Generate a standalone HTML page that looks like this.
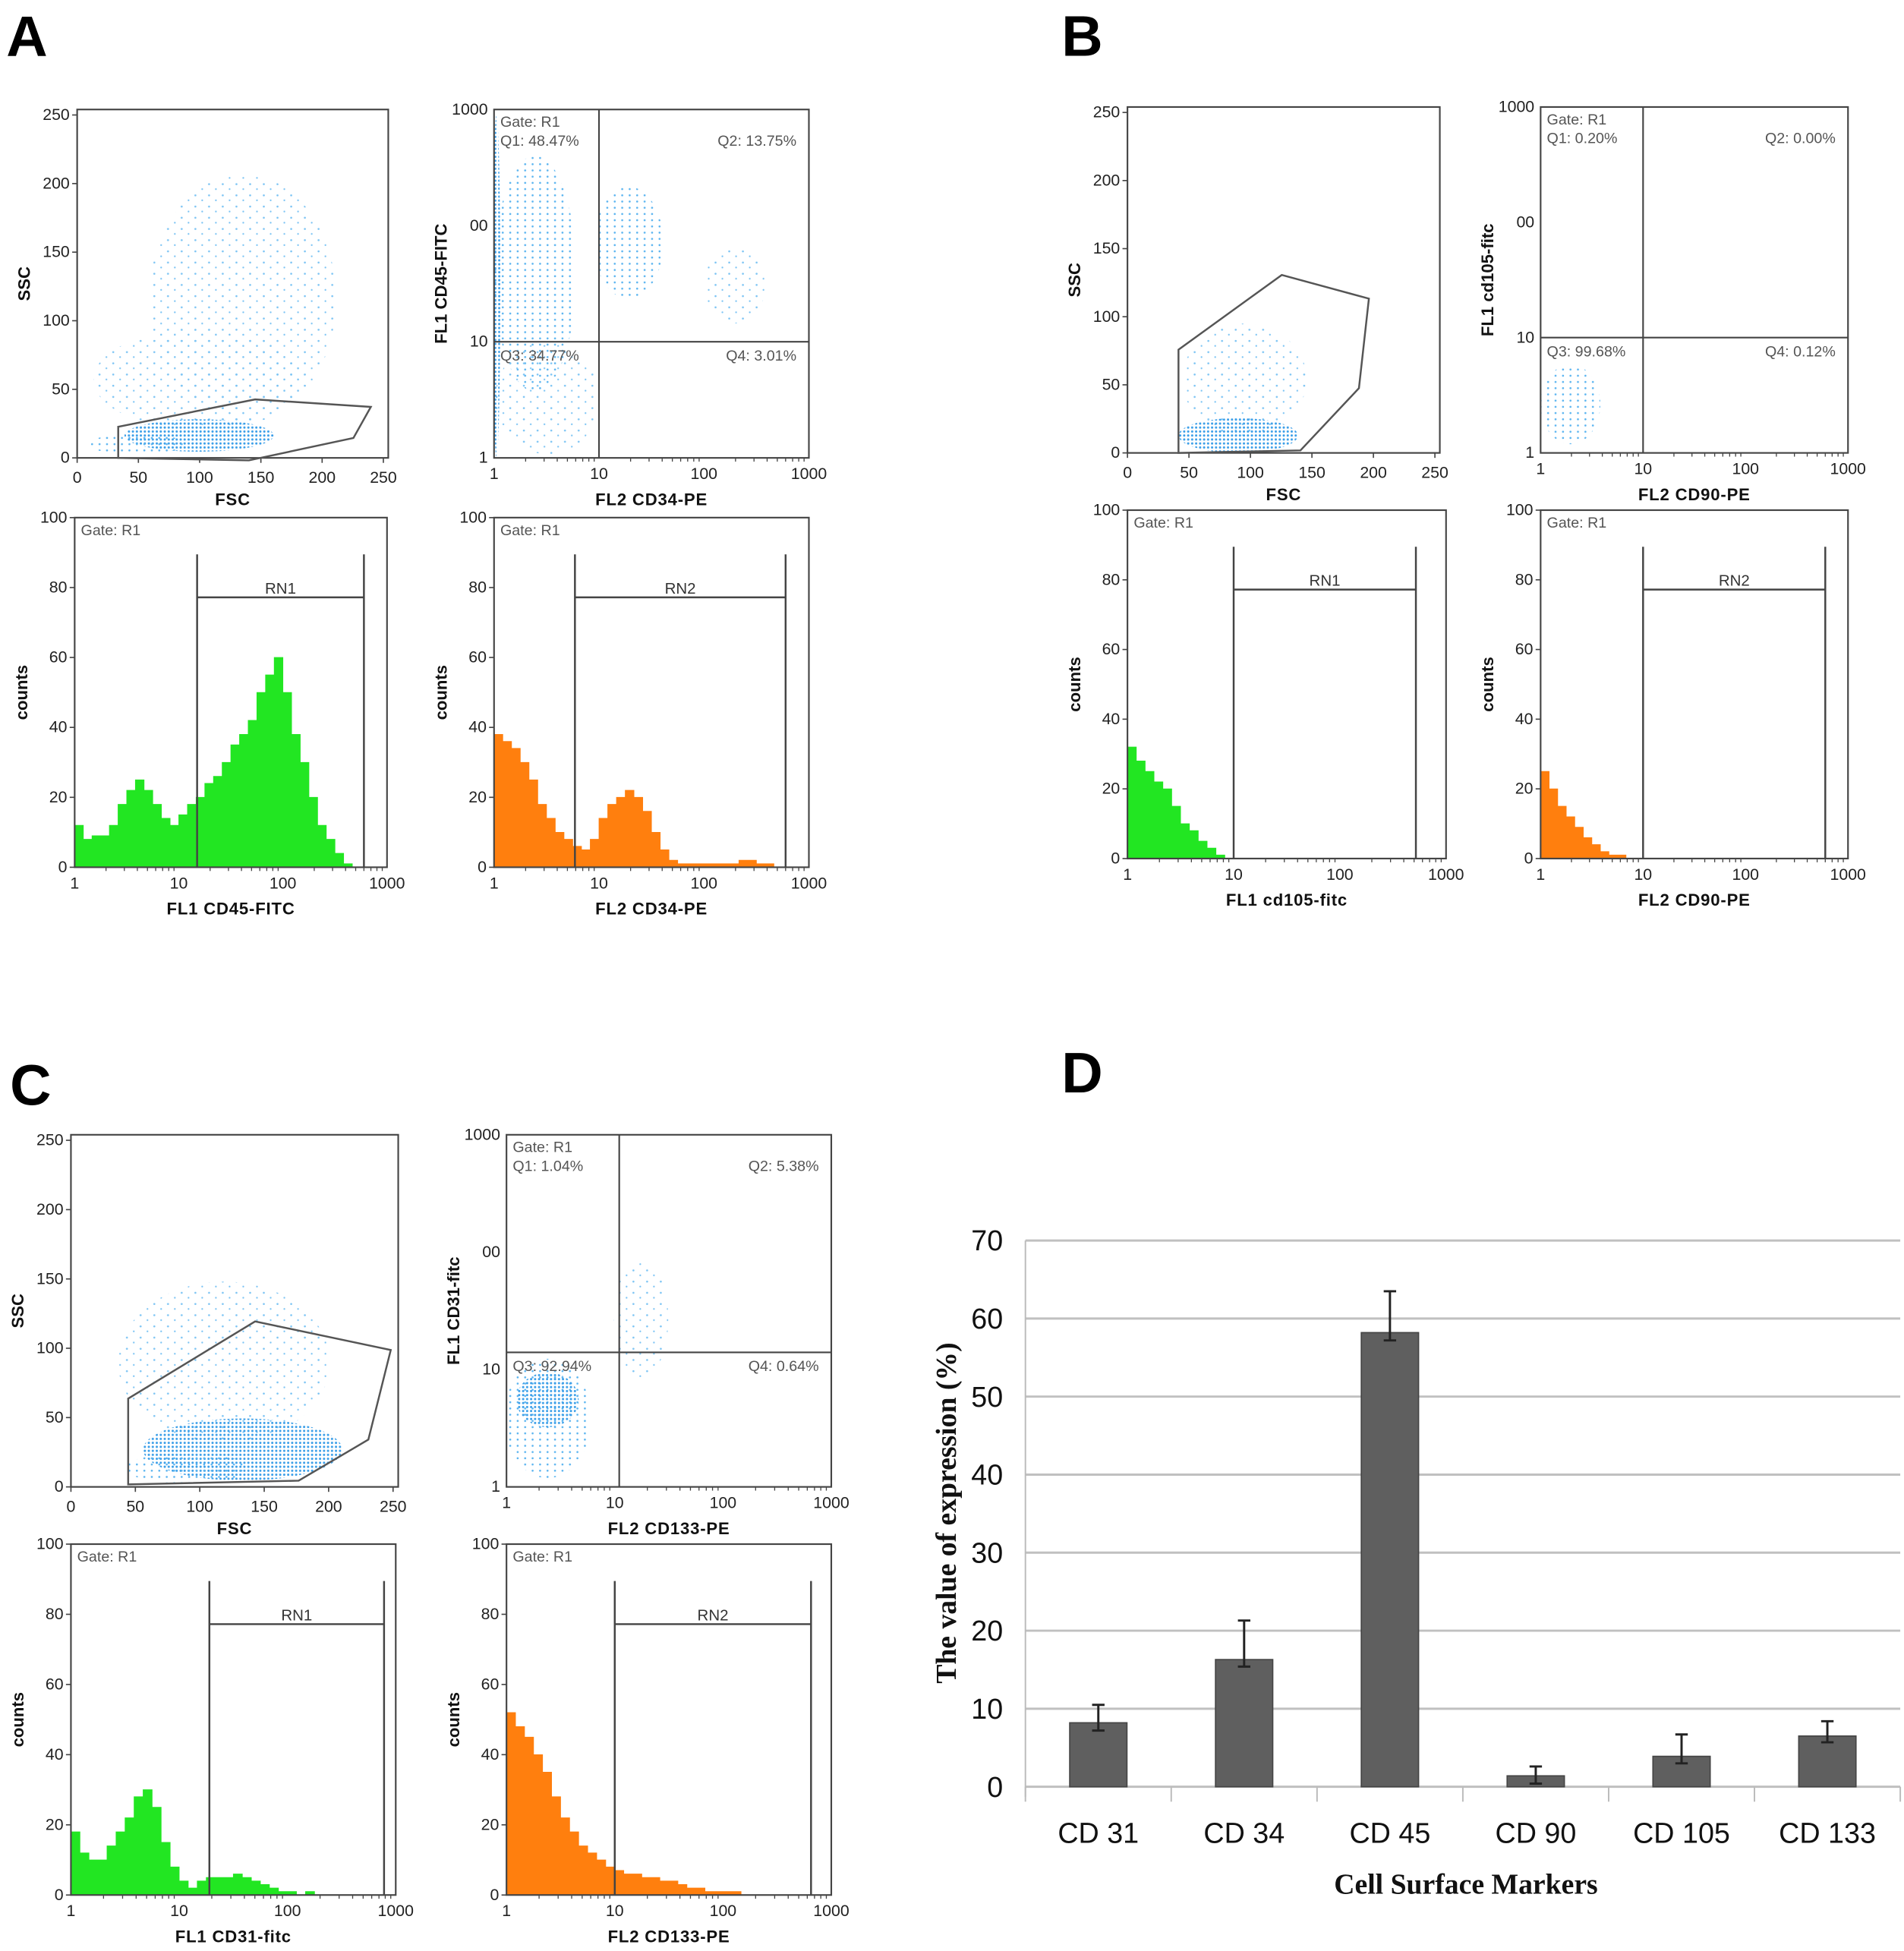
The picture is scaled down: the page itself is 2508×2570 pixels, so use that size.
<!DOCTYPE html>
<html><head><meta charset="utf-8"><style>
html,body{margin:0;padding:0;background:#fff;}
svg{display:block;}
.lab{font-family:"Liberation Sans",sans-serif;}
</style></head>
<body>
<svg id="fig" width="2508" height="2570" viewBox="0 0 1530 1568" preserveAspectRatio="none" xmlns="http://www.w3.org/2000/svg">
<defs>
<pattern id="dense" width="3.2" height="3.2" patternUnits="userSpaceOnUse"><circle cx="1.2" cy="1.2" r="0.9" fill="#3a9ee8"/></pattern>
<pattern id="mid" width="6" height="5" patternUnits="userSpaceOnUse"><circle cx="2" cy="2" r="0.8" fill="#5ab4f0"/></pattern>
<pattern id="sparse" width="11" height="9" patternUnits="userSpaceOnUse"><circle cx="3" cy="4" r="0.8" fill="#7cc4f4"/><circle cx="8.5" cy="8" r="0.7" fill="#7cc4f4"/></pattern>
</defs>
<g id="root"></g>
</svg>
<script>
// ---- Histogram data (counts per log bin, 12 bins per decade starting at 1) ----
const histA1 = [12,8,9,9,12,18,22,25,22,18,14,12,15,18,20,24,26,30,35,38,42,50,55,60,50,38,30,20,12,8,4,1,0,0,0,0];
const histA2 = [38,36,34,30,25,18,14,10,8,6,5,8,14,18,20,22,20,16,10,5,2,1,1,1,1,1,1,1,2,2,1,1,0,0,0,0];
const histB1 = [32,28,25,22,20,15,10,8,5,3,1,0,0,0,0,0,0,0,0,0,0,0,0,0,0,0,0,0,0,0,0,0,0,0,0,0];
const histB2 = [25,20,15,12,9,6,4,2,1,1,0,0,0,0,0,0,0,0,0,0,0,0,0,0,0,0,0,0,0,0,0,0,0,0,0,0];
const histC1 = [18,12,10,10,14,18,22,28,30,25,15,8,4,2,4,5,5,5,6,5,4,3,2,1,1,0,1,0,0,0,0,0,0,0,0,0];
const histC2 = [52,48,45,40,35,28,22,18,14,12,10,8,7,6,6,5,5,4,4,3,2,2,1,1,1,1,0,0,0,0,0,0,0,0,0,0];
// ---- Bar chart data ----
const markers = ["CD 31","CD 34","CD 45","CD 90","CD 105","CD 133"];
const expression = [8.2,16.3,58.2,1.4,3.9,6.5];
const errUpper = [10.5,21.3,63.5,2.6,6.7,8.4];
const errLower = [7.2,15.4,57.2,0.4,3.0,5.7];
const barTicks = [0,10,20,30,40,50,60,70];

const NS="http://www.w3.org/2000/svg";
const root=document.getElementById('root');
const SANS='font-family:"Liberation Sans",sans-serif';
const NARROW='font-family:"Liberation Sans Narrow","Liberation Sans",sans-serif';
const SERIF='font-family:"Liberation Serif",serif';
function el(tag,attrs,parent,txt){const e=document.createElementNS(NS,tag);for(const k in attrs)e.setAttribute(k,attrs[k]);if(tag==='text'&&!attrs.style)e.setAttribute('style',SANS);if(txt!==undefined)e.textContent=txt;(parent||root).appendChild(e);return e;}

function frame(g,b,name){
  const r=el('rect',{x:b.x0,y:b.y0,width:b.x1-b.x0,height:b.y1-b.y0,fill:'none',stroke:'#444','stroke-width':1.3},g);
  
  
}
function tickLabel(g,x,y,t,anchor){
  const e=el('text',{x:x,y:y,'font-size':13,fill:'#222','text-anchor':anchor},g,t);
  
  
}
function axisTitles(g,b,xl,yl){
  const t=el('text',{x:(b.x0+b.x1)/2,y:b.y1+38,'font-size':13.5,'font-weight':'bold',fill:'#111','text-anchor':'middle','letter-spacing':'0.5'},g,xl);
  
  
  const cx=b.x0-38, cy=(b.y0+b.y1)/2;
  const u=el('text',{x:cx,y:cy,'font-size':13.5,'font-weight':'bold',fill:'#111','text-anchor':'middle',transform:`rotate(-90 ${cx} ${cy})`},g,yl);
  
  
}
function logX(b,v){return b.x0+(b.x1-b.x0)*Math.log10(v)/3;}
function logY(b,v){return b.y1-(b.y1-b.y0)*Math.log10(v)/3;}
function logXTicks(g,b){
  [1,10,100,1000].forEach(v=>tickLabel(g,logX(b,v),b.y1+17,String(v),'middle'));
  for(let d=0;d<3;d++)for(let m=2;m<10;m++){const x=logX(b,Math.pow(10,d)*m);el('line',{x1:x,x2:x,y1:b.y1,y2:b.y1+3,stroke:'#444','stroke-width':0.8},g);}
}
function gateText(g,b){
  const t=el('text',{x:b.x0+5,y:b.y0+14,'font-size':12,fill:'#555'},g,'Gate: R1');
  
  
}

function scatterPanel(b,poly,clouds,name){
  const g=el('g',{});  
  clouds.forEach(c=>{const e=el('ellipse',{cx:c[0],cy:c[1],rx:c[2],ry:c[3],fill:'url(#'+c[4]+')'},g);});
  frame(g,b,name);
  const sx=v=>b.x0+(b.x1-b.x0)*v/254, sy=v=>b.y1-(b.y1-b.y0)*v/254;
  [0,50,100,150,200,250].forEach(v=>{tickLabel(g,sx(v),b.y1+20,String(v),'middle');tickLabel(g,b.x0-6,sy(v)+4,String(v),'end');
    el('line',{x1:sx(v),x2:sx(v),y1:b.y1,y2:b.y1+4,stroke:'#444'},g);el('line',{x1:b.x0-4,x2:b.x0,y1:sy(v),y2:sy(v),stroke:'#444'},g);});
  const p=el('polygon',{points:poly,fill:'none',stroke:'#555','stroke-width':1.5},g);
  
  
  axisTitles(g,b,'FSC','SSC');
  return g;
}
function quadPanel(b,qx,qy,q,clouds,xl,yl,name){
  const g=el('g',{});  
  clouds.forEach(c=>{const e=el('ellipse',{cx:c[0],cy:c[1],rx:c[2],ry:c[3],fill:'url(#'+c[4]+')'},g);});
  frame(g,b,name);
  const vx=logX(b,qx), vy=logY(b,qy);
  const l1=el('line',{x1:vx,x2:vx,y1:b.y0,y2:b.y1,stroke:'#444','stroke-width':1.3},g);
  
  
  const l2=el('line',{x1:b.x0,x2:b.x1,y1:vy,y2:vy,stroke:'#444','stroke-width':1.3},g);
  
  
  logXTicks(g,b);
  [['1',1],['10',10],['00',100],['1000',1000]].forEach(t=>tickLabel(g,b.x0-5,logY(b,t[1])+4,t[0],'end'));
  gateText(g,b);
  const labs=[[b.x0+5,b.y0+29,'Q1: '+q[0],'start'],[b.x1-10,b.y0+29,'Q2: '+q[1],'end'],[b.x0+5,vy+15,'Q3: '+q[2],'start'],[b.x1-10,vy+15,'Q4: '+q[3],'end']];
  labs.forEach((L,i)=>{const t=el('text',{x:L[0],y:L[1],'font-size':12,fill:'#555','text-anchor':L[3]},g,L[2]);});
  axisTitles(g,b,xl,yl);
  return g;
}
function histPanel(b,data,color,g1,g2,rn,xl,name){
  const g=el('g',{});  
  const yv=v=>b.y1-(b.y1-b.y0)*v/100;
  let d='M'+b.x0+','+b.y1;
  data.forEach((v,i)=>{const xa=logX(b,Math.pow(10,i/12)),xb=logX(b,Math.pow(10,(i+1)/12));d+=' L'+xa+','+yv(v)+' L'+xb+','+yv(v);});
  d+=' L'+logX(b,Math.pow(10,data.length/12))+','+b.y1+' Z';
  const p=el('path',{d:d,fill:color,stroke:color,'stroke-width':0.5},g);
  
  
  frame(g,b,name);
  logXTicks(g,b);
  [0,20,40,60,80,100].forEach(v=>{tickLabel(g,b.x0-6,yv(v)+4,String(v),'end');el('line',{x1:b.x0-4,x2:b.x0,y1:yv(v),y2:yv(v),stroke:'#444'},g);});
  const xa=logX(b,g1),xb=logX(b,g2),top=b.y0+(b.y1-b.y0)*0.105,bar=b.y0+(b.y1-b.y0)*0.228;
  const gp=el('path',{d:`M${xa},${b.y1} L${xa},${top} M${xa},${bar} L${xb},${bar} M${xb},${top} L${xb},${b.y1}`,fill:'none',stroke:'#444','stroke-width':1.5},g);
  
  
  const rt=el('text',{x:(xa+xb)/2,y:bar-3,'font-size':12.5,fill:'#333','text-anchor':'middle'},g,rn);
  
  
  gateText(g,b);
  axisTitles(g,b,xl,'counts');
  return g;
}
function letter(x,y,t){const e=el('text',{x:x,y:y,'font-size':46,'font-weight':'bold',fill:'#000'},root,t);}

// Panel A
letter(5,45,'A');
scatterPanel({x0:62,x1:312,y0:88,y1:368},'95,343 205,321 298,327 284,352 200,370 95,368',
  [[195,240,75,100,'sparse'],[160,305,85,40,'sparse'],[160,350,60,13,'dense'],[110,357,40,8,'mid']],'panel-a-scatter');
quadPanel({x0:397,x1:650,y0:88,y1:368},10,10,['48.47%','13.75%','34.77%','3.01%'],
  [[430,220,33,95,'mid'],[505,195,28,45,'mid'],[440,320,42,45,'sparse'],[590,230,25,30,'sparse'],[399,230,3,138,'dense']],'FL2  CD34-PE','FL1  CD45-FITC','panel-a-quadrant');
histPanel({x0:60,x1:311,y0:416,y1:697},histA1,'#22e622',15,600,'RN1','FL1  CD45-FITC','panel-a-hist-cd45');
histPanel({x0:397,x1:650,y0:416,y1:697},histA2,'#ff7f0e',5.9,600,'RN2','FL2  CD34-PE','panel-a-hist-cd34');

// Panel B
letter(853,45,'B');
scatterPanel({x0:906,x1:1157,y0:86,y1:364},'947,281 1030,221 1100,240 1092,312 1045,362 947,364',
  [[1000,305,50,45,'sparse'],[995,350,48,14,'dense']],'panel-b-scatter');
quadPanel({x0:1238,x1:1485,y0:86,y1:364},10,10,['0.20%','0.00%','99.68%','0.12%'],
  [[1262,325,24,32,'mid']],'FL2  CD90-PE','FL1  cd105-fitc','panel-b-quadrant');
histPanel({x0:906,x1:1162,y0:410,y1:690},histB1,'#22e622',10,520,'RN1','FL1  cd105-fitc','panel-b-hist-cd105');
histPanel({x0:1238,x1:1485,y0:410,y1:690},histB2,'#ff7f0e',10,600,'RN2','FL2  CD90-PE','panel-b-hist-cd90');

// Panel C
letter(8,888,'C');
scatterPanel({x0:57,x1:320,y0:912,y1:1195},'103,1124 205,1062 314,1085 296,1157 240,1190 103,1193',
  [[180,1095,85,65,'sparse'],[195,1165,80,25,'dense'],[150,1180,50,12,'mid']],'panel-c-scatter');
quadPanel({x0:407,x1:668,y0:912,y1:1195},11,14,['1.04%','5.38%','92.94%','0.64%'],
  [[440,1140,35,48,'mid'],[515,1060,22,48,'sparse'],[440,1125,25,22,'dense']],'FL2  CD133-PE','FL1  CD31-fitc','panel-c-quadrant');
histPanel({x0:57,x1:318,y0:1241,y1:1523},histC1,'#22e622',19,780,'RN1','FL1  CD31-fitc','panel-c-hist-cd31');
histPanel({x0:407,x1:668,y0:1241,y1:1523},histC2,'#ff7f0e',10,650,'RN2','FL2  CD133-PE','panel-c-hist-cd133');

// Panel D bar chart
letter(853,878,'D');
const bx0=824,bx1=1527,by0=1436,byTop=997;
const yS=v=>by0-(by0-byTop)*v/70;
const cw=(bx1-bx0)/markers.length;
const xC=i=>bx0+cw*(i+0.5);
const gd=el('g',{});  
barTicks.forEach(v=>{
  const l=el('line',{x1:bx0,x2:bx1,y1:yS(v),y2:yS(v),stroke:'#c0c0c0','stroke-width':1.8},gd);
  
  
  const t=el('text',{x:bx0-18,y:yS(v)+8,'font-size':23,fill:'#111','text-anchor':'end',style:NARROW},gd,String(v));
  
  
});
el('line',{x1:bx0,x2:bx0,y1:byTop,y2:by0+8,stroke:'#bbb','stroke-width':1.2},gd);
for(let i=0;i<=markers.length;i++){el('line',{x1:bx0+cw*i,x2:bx0+cw*i,y1:by0,y2:by0+12,stroke:'#bbb','stroke-width':1.2},gd);}
markers.forEach((m,i)=>{
  const r=el('rect',{x:xC(i)-23,y:yS(expression[i]),width:46,height:by0-yS(expression[i]),fill:'#5f5f5f',stroke:'#444','stroke-width':1},gd);
  
  
  const e=el('path',{d:`M${xC(i)},${yS(errLower[i])} L${xC(i)},${yS(errUpper[i])} M${xC(i)-5},${yS(errUpper[i])} L${xC(i)+5},${yS(errUpper[i])} M${xC(i)-5},${yS(errLower[i])} L${xC(i)+5},${yS(errLower[i])}`,stroke:'#222','stroke-width':1.8,fill:'none'},gd);
  
  
  const t=el('text',{x:xC(i),y:1481,'font-size':23,fill:'#111','text-anchor':'middle',style:NARROW},gd,m);
  
  
});
const xt=el('text',{x:1178,y:1522,'font-size':23,'font-weight':'bold',fill:'#111','text-anchor':'middle',style:SERIF},gd,'Cell Surface Markers');


const yt=el('text',{x:768,y:1216,'font-size':23,'font-weight':'bold',fill:'#111','text-anchor':'middle',style:SERIF,transform:'rotate(-90 768 1216)'},gd,'The value of expression (%)');


</script>
</body></html>
